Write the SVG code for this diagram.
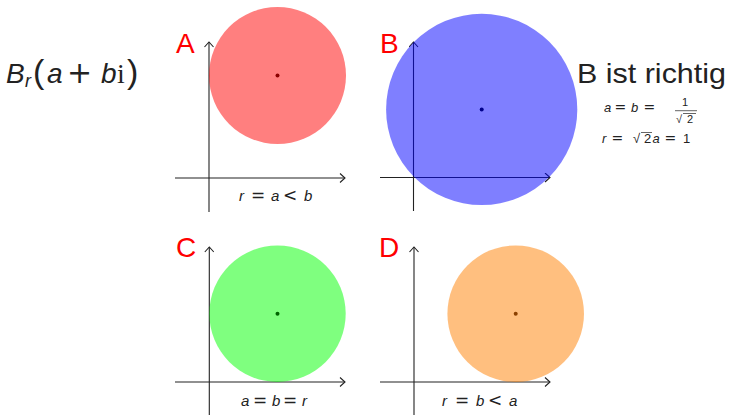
<svg xmlns="http://www.w3.org/2000/svg" width="731" height="415" viewBox="0 0 731 415">
<defs>
<style>
.ax{stroke:#222;stroke-width:1.1;fill:none;marker-end:url(#arr)}
.lbl{font-family:"Liberation Sans",Arial,sans-serif;font-size:28px;fill:#ff0000}
.m{font-family:"Liberation Sans",Arial,sans-serif;fill:#222}
.it{font-style:italic}
.op{font-family:"DejaVu Sans",sans-serif}
.cap{font-size:15px}
.cap .op{font-size:17px}
.f{font-size:13px}
.f .op{font-size:14px}
</style>
<marker id="arr" viewBox="-6 -5 7 10" markerWidth="7" markerHeight="10" refX="0" refY="0" orient="auto" markerUnits="userSpaceOnUse">
<path d="M-5,-4.5 L0,0 L-5,4.5" fill="none" stroke="#222" stroke-width="1.1"/>
</marker>
</defs>
<rect width="731" height="415" fill="#fff"/>

<g id="title">
<text class="m" y="83" font-size="28"><tspan class="it" x="6">B</tspan><tspan class="it" x="25" y="87" font-size="18">r</tspan><tspan x="33" y="83" font-size="34">(</tspan><tspan class="it" x="47">a</tspan><tspan class="op" x="67" font-size="30">+</tspan><tspan class="it" x="101">b</tspan><tspan x="117" font-family="Liberation Serif,serif">i</tspan><tspan x="127" font-size="34">)</tspan></text>
</g>

<g id="answer">
<text class="m" x="577" y="83" font-size="28" textLength="149" lengthAdjust="spacingAndGlyphs">B ist richtig</text>
<text class="m f" y="112"><tspan class="it" x="604">a</tspan><tspan class="op" x="614.5">=</tspan><tspan class="it" x="631">b</tspan><tspan class="op" x="643.5">=</tspan></text>
<text class="m" x="682" y="106" font-size="11">1</text>
<line x1="675" y1="110.7" x2="697" y2="110.7" stroke="#222" stroke-width="0.7"/>
<text class="m" x="676" y="123" font-size="11">√</text>
<line x1="683" y1="113.5" x2="696" y2="113.5" stroke="#222" stroke-width="0.7"/>
<text class="m" x="687" y="123" font-size="11">2</text>
<text class="m f" y="143"><tspan class="it" x="602">r</tspan><tspan class="op" x="611.5">=</tspan><tspan x="633">√</tspan><tspan x="644">2</tspan><tspan class="it" x="652.5">a</tspan><tspan class="op" x="664.5">=</tspan><tspan x="683">1</tspan></text>
<line x1="641" y1="132.5" x2="652" y2="132.5" stroke="#222" stroke-width="0.7"/>
</g>

<g id="panelA">
<line class="ax" x1="175" y1="178" x2="345" y2="178"/>
<line class="ax" x1="209" y1="212" x2="209" y2="42"/>
<circle cx="277.5" cy="75.5" r="68.5" fill="#ff0000" fill-opacity="0.5"/>
<circle cx="277.5" cy="75.5" r="2" fill="#8b0000"/>
<text class="lbl" x="176" y="53">A</text>
<text class="m cap" y="201"><tspan class="it" x="239">r</tspan><tspan class="op" x="251">=</tspan><tspan class="it" x="271">a</tspan><tspan class="op" x="283">&lt;</tspan><tspan class="it" x="304">b</tspan></text>
</g>

<g id="panelB">
<line class="ax" x1="380" y1="177.5" x2="550" y2="177.5"/>
<line class="ax" x1="413.5" y1="211" x2="413.5" y2="42"/>
<circle cx="481.7" cy="109.4" r="95.6" fill="#0000ff" fill-opacity="0.5"/>
<circle cx="481.7" cy="109.4" r="2" fill="#00008b"/>
<text class="lbl" x="380" y="53">B</text>
</g>

<g id="panelC">
<line class="ax" x1="175" y1="382" x2="345" y2="382"/>
<line class="ax" x1="209.3" y1="415" x2="209.3" y2="247"/>
<circle cx="277.5" cy="313.7" r="68.2" fill="#00ff00" fill-opacity="0.5"/>
<circle cx="277.5" cy="313.7" r="2" fill="#006400"/>
<text class="lbl" x="176" y="257">C</text>
<text class="m cap" y="405.5"><tspan class="it" x="241">a</tspan><tspan class="op" x="253">=</tspan><tspan class="it" x="272">b</tspan><tspan class="op" x="283">=</tspan><tspan class="it" x="302">r</tspan></text>
</g>

<g id="panelD">
<line class="ax" x1="380" y1="382" x2="550" y2="382"/>
<line class="ax" x1="414" y1="415" x2="414" y2="247"/>
<circle cx="515.7" cy="313.7" r="68.3" fill="#ff8000" fill-opacity="0.5"/>
<circle cx="515.7" cy="313.7" r="2" fill="#8b4000"/>
<text class="lbl" x="379" y="257">D</text>
<text class="m cap" y="405.5"><tspan class="it" x="442">r</tspan><tspan class="op" x="455">=</tspan><tspan class="it" x="476">b</tspan><tspan class="op" x="488">&lt;</tspan><tspan class="it" x="509">a</tspan></text>
</g>
</svg>
